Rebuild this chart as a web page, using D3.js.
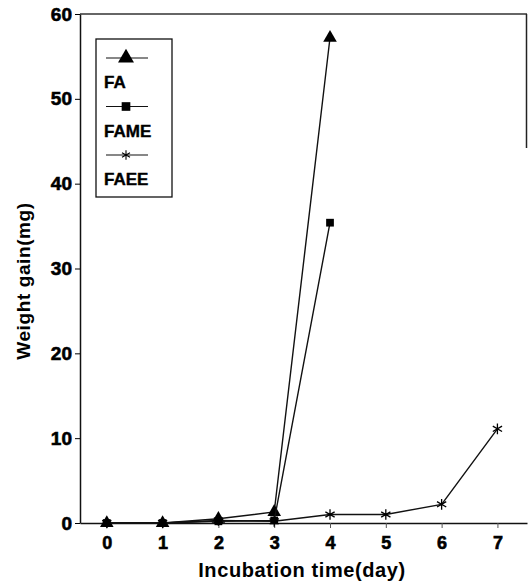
<!DOCTYPE html>
<html>
<head>
<meta charset="utf-8">
<script src="https://cdn.jsdelivr.net/npm/d3@7"></script>
<style>
  body { margin: 0; background: #fff; }
  text { font-family: "Liberation Sans", Arial, sans-serif; font-weight: bold; fill: #000; }
  .tick text { stroke: #000; stroke-width: 0.6px; }
</style>
</head>
<body>
<div id="chart"></div>
<script>
// data
const days = [0, 1, 2, 3, 4, 5, 6, 7];
const faValues = [0, 0, 0.5, 1.3, 57.2];
const fameValues = [0, 0, 0.2, 0.3, 35.4];
const faeeValues = [0, 0, 0.3, 0.2, 1.0, 1.0, 2.2, 11.1];
const yTicks = [0, 10, 20, 30, 40, 50, 60];
const seriesNames = ["FA", "FAME", "FAEE"];

function draw() {
  const W = 528, H = 582;
  const margin = {top: 14, right: 1, bottom: 59, left: 80};
  const width = W - margin.left - margin.right;
  const height = H - margin.top - margin.bottom;

  const svg = d3.select("#chart")
    .append("svg")
    .attr("width", W)
    .attr("height", H);

  const chart = svg.append("g")
    .attr("transform", `translate(${margin.left},${margin.top})`);

  // x-scale: day 0 at ~107px, day 7 at ~497px
  const xScale = d3.scaleLinear()
    .domain([-0.48, 7.53])
    .range([0, width]);

  const yScale = d3.scaleLinear()
    .domain([0, 60])
    .range([height, 0]);

  // frame: top line and short right edge
  chart.append("line")
    .attr("x1", 0).attr("x2", width)
    .attr("y1", 0).attr("y2", 0)
    .attr("stroke", "#333").attr("stroke-width", 1.5);
  chart.append("line")
    .attr("x1", width - 0.5).attr("x2", width - 0.5)
    .attr("y1", 0).attr("y2", 134)
    .attr("stroke", "#222").attr("stroke-width", 1.5);

  // x-axis
  chart.append("g")
    .attr("transform", `translate(0,${height})`)
    .call(d3.axisBottom(xScale)
      .tickValues(days)
      .tickSize(5)
      .tickPadding(8)
      .tickSizeOuter(0))
    .call(g => g.select(".domain").attr("stroke", "#111").attr("stroke-width", 1.5))
    .call(g => g.selectAll(".tick line").attr("stroke", "#555"))
    .call(g => g.selectAll("text").style("font-size", "18px"));

  // y-axis
  chart.append("g")
    .call(d3.axisLeft(yScale)
      .tickValues(yTicks)
      .tickSize(5)
      .tickPadding(3)
      .tickSizeOuter(0))
    .call(g => g.select(".domain").attr("stroke", "#111").attr("stroke-width", 1.5))
    .call(g => g.selectAll("text").style("font-size", "19px"));

  // axis titles
  svg.append("text")
    .attr("x", 302).attr("y", 577)
    .attr("text-anchor", "middle")
    .style("font-size", "20px")
    .style("letter-spacing", "0.6px")
    .text("Incubation time(day)");

  svg.append("text")
    .attr("transform", "translate(30,281) rotate(-90)")
    .attr("text-anchor", "middle")
    .style("font-size", "19px")
    .style("letter-spacing", "0.6px")
    .text("Weight gain(mg)");

  const line = d3.line()
    .x((d, i) => xScale(days[i]))
    .y(d => yScale(d));

  const series = [faValues, fameValues, faeeValues];
  const symbols = [d3.symbolTriangle, d3.symbolSquare, d3.symbolAsterisk];
  const sizes = [80, 60, 80];

  // draw FAEE first, then FA, then FAME so the squares sit on top near zero
  [2, 0, 1].forEach(s => {
    const vals = series[s];
    chart.append("path")
      .datum(vals)
      .attr("fill", "none")
      .attr("stroke", "#111")
      .attr("stroke-width", 1.4)
      .attr("d", line);

    chart.selectAll(null)
      .data(vals)
      .join("path")
      .attr("transform", (d, i) => `translate(${xScale(days[i])},${yScale(d)})`)
      .attr("d", d3.symbol(symbols[s], sizes[s]))
      .attr("fill", s === 2 ? "none" : "#000")
      .attr("stroke", "#000")
      .attr("stroke-width", s === 2 ? 1.3 : 0);
  });

  // legend
  const legend = svg.append("g").attr("transform", "translate(96,39)");
  legend.append("rect")
    .attr("width", 76).attr("height", 158)
    .attr("fill", "#fff")
    .attr("stroke", "#111").attr("stroke-width", 1.3);

  seriesNames.forEach((name, s) => {
    const y0 = 19 + s * 48.5;
    legend.append("line")
      .attr("x1", 10).attr("x2", 52)
      .attr("y1", y0).attr("y2", y0)
      .attr("stroke", "#111").attr("stroke-width", 1.2);
    legend.append("path")
      .attr("transform", `translate(30,${y0})`)
      .attr("d", d3.symbol(symbols[s], s === 0 ? 110 : s === 1 ? 75 : 60))
      .attr("fill", s === 2 ? "none" : "#000")
      .attr("stroke", "#000")
      .attr("stroke-width", s === 2 ? 1.1 : 0);
    legend.append("text")
      .attr("x", 8).attr("y", y0 + 30)
      .style("font-size", "17px")
      .style("stroke", "#000").style("stroke-width", "0.4px")
      .text(name);
  });
}

draw();
</script>
</body>
</html>
